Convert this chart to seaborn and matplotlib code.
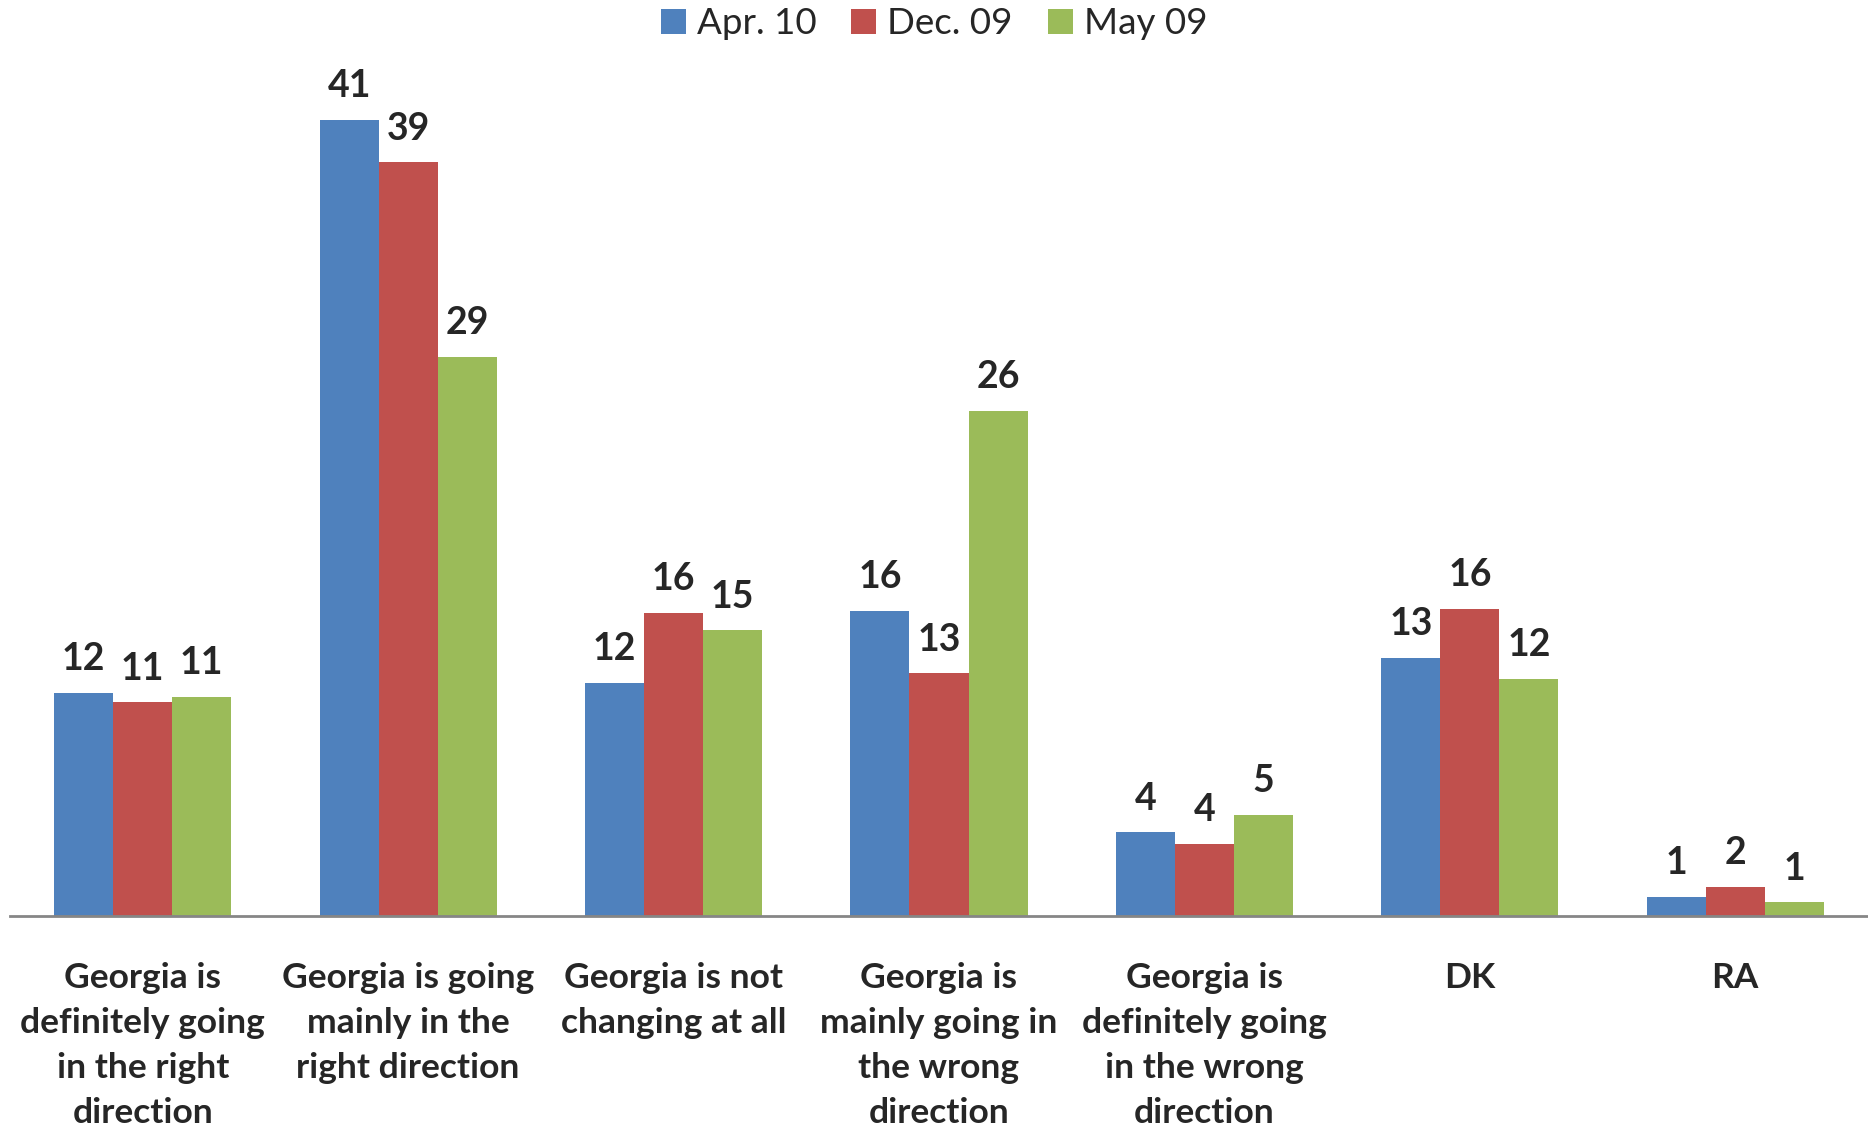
import matplotlib
matplotlib.use("Agg")
import matplotlib.pyplot as plt
import seaborn as sns
import pandas as pd

categories = [
    "Georgia is\ndefinitely going\nin the right\ndirection",
    "Georgia is going\nmainly in the\nright direction",
    "Georgia is not\nchanging at all",
    "Georgia is\nmainly going in\nthe wrong\ndirection",
    "Georgia is\ndefinitely going\nin the wrong\ndirection",
    "DK",
    "RA",
]
series = ["Apr. 10", "Dec. 09", "May 09"]
apr10 = [11.5, 41.0, 12.0, 15.7, 4.3, 13.3, 1.0]
dec09 = [11.0, 38.8, 15.6, 12.5, 3.7, 15.8, 1.5]
may09 = [11.3, 28.8, 14.7, 26.0, 5.2, 12.2, 0.7]
apr10_labels = ["12", "41", "12", "16", "4", "13", "1"]
dec09_labels = ["11", "39", "16", "13", "4", "16", "2"]
may09_labels = ["11", "29", "15", "26", "5", "12", "1"]
colors = ["#4F81BD", "#C0504D", "#9BBB59"]

rows = []
for s, vals in zip(series, [apr10, dec09, may09]):
    for c, v in zip(categories, vals):
        rows.append({"category": c, "series": s, "value": v})
df = pd.DataFrame(rows)

sns.set_theme(style="white")
plt.rcParams["font.family"] = ["Lato", "DejaVu Sans"]

fig = plt.figure(figsize=(18.68, 11.28), dpi=100)
ax = fig.add_axes([10 / 1868, (1128 - 916) / 1128, 1 - 10 / 1868, (916 - 42) / 1128])

sns.barplot(data=df, x="category", y="value", hue="series", order=categories,
            hue_order=series, palette=colors, width=0.667, linewidth=0,
            saturation=1, ax=ax)

for cont, labs in zip(ax.containers, [apr10_labels, dec09_labels, may09_labels]):
    ax.bar_label(cont, labels=labs, padding=12, fontsize=27, fontweight="bold")

ax.set_xlim(-0.5, 6.5)
ax.set_ylim(0, 45)
ax.set_xlabel("")
ax.set_ylabel("")
ax.set_yticks([])
for side in ["top", "right", "left"]:
    ax.spines[side].set_visible(False)
ax.spines["bottom"].set_color("#868686")
ax.spines["bottom"].set_linewidth(2)
ax.tick_params(axis="x", length=0, pad=33)
for t in ax.get_xticklabels():
    t.set_fontsize(25.5)
    t.set_fontweight("bold")
    t.set_linespacing(1.5)

handles, labels = ax.get_legend_handles_labels()
ax.legend(handles, labels, loc="center", bbox_to_anchor=(0.5, (1128 - 24) / 1128),
          bbox_transform=fig.transFigure, ncol=3, frameon=False, fontsize=26.5,
          handlelength=0.68, handleheight=0.68, handletextpad=0.3, columnspacing=0.95)

fig.savefig("out.png", dpi=100)
